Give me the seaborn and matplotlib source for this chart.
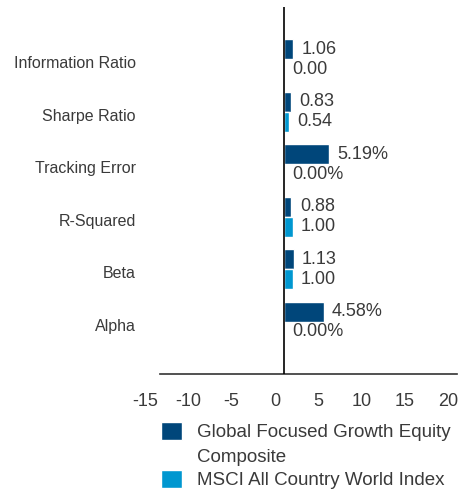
import pandas as pd
import matplotlib
matplotlib.use("Agg")
import matplotlib.pyplot as plt
from matplotlib.transforms import ScaledTranslation
import seaborn as sns

# Dados do gráfico
metricas = ["Information Ratio", "Sharpe Ratio", "Tracking Error", "R-Squared", "Beta", "Alpha"]
series = ["Global Focused Growth Equity", "MSCI All Country World Index"]
serie_linha2 = "Composite"
valores_fundo = [1.06, 0.83, 5.19, 0.88, 1.13, 4.58]
valores_indice = [0.00, 0.54, 0.00, 1.00, 1.00, 0.00]
rotulos_fundo = ["1.06", "0.83", "5.19%", "0.88", "1.13", "4.58%"]
rotulos_indice = ["0.00", "0.54", "0.00%", "1.00", "1.00", "0.00%"]
ticks_x = [-15, -10, -5, 0, 5, 10, 15, 20]

cores = ["#00467a", "#0097d0"]
cor_texto = "#3a3a3a"

df = pd.DataFrame({
    "metrica": metricas * 2,
    "serie": [series[0]] * 6 + [series[1]] * 6,
    "valor": valores_fundo + valores_indice,
})

sns.set_style("white")
plt.rcParams["font.family"] = ["Liberation Sans", "DejaVu Sans"]

fig = plt.figure(figsize=(4.68, 4.92), dpi=100)
ax = fig.add_axes([154 / 468, 1 - 374 / 492, 303 / 468, 367 / 492])

sns.barplot(data=df, y="metrica", x="valor", hue="serie", orient="h",
            palette=cores, width=0.76, gap=0, ax=ax, order=metricas,
            hue_order=series, saturation=1)

ax.set_xlim(-15, 20)
ax.set_ylim(5.99, -0.99)
ax.set_xticks(ticks_x)
ax.set_xticklabels([str(t) for t in ticks_x], fontsize=13, color=cor_texto)
ax.set_yticks(range(len(metricas)))
ax.set_yticklabels(metricas, fontsize=11.5, color=cor_texto)
ax.tick_params(axis="x", length=0, pad=14)
ax.tick_params(axis="y", length=0, pad=13)
ax.set_xlabel("")
ax.set_ylabel("")

# no original os rótulos do eixo x ficam um pouco à esquerda das posições
desloc = ScaledTranslation(-9 / 100, 0, fig.dpi_scale_trans)
for lbl in ax.get_xticklabels():
    lbl.set_transform(lbl.get_transform() + desloc)
# e os nomes das métricas um pouco abaixo do centro do grupo
desloc_y = ScaledTranslation(0, -3 / 100, fig.dpi_scale_trans)
for lbl in ax.get_yticklabels():
    lbl.set_transform(lbl.get_transform() + desloc_y)

for lado in ["top", "right", "left"]:
    ax.spines[lado].set_visible(False)
ax.spines["bottom"].set_color("#333333")
ax.spines["bottom"].set_linewidth(1.2)
ax.spines["bottom"].set_bounds(-14.3, 20)
ax.axvline(0, color="black", lw=1.2, zorder=3)

ax.bar_label(ax.containers[0], labels=rotulos_fundo, padding=6, fontsize=13, color=cor_texto)
ax.bar_label(ax.containers[1], labels=rotulos_indice, padding=6, fontsize=13, color=cor_texto)

handles, labels = ax.get_legend_handles_labels()
ax.get_legend().remove()
leg = fig.legend(handles, labels, loc="upper left", bbox_to_anchor=(161 / 468, 1 - 422 / 492),
                 frameon=False, fontsize=13.5, handlelength=1.1, handleheight=1.1,
                 handletextpad=0.8, labelspacing=1.5, labelcolor=cor_texto,
                 borderpad=0, borderaxespad=0)

# segunda linha do primeiro item da legenda, logo abaixo do texto
fig.canvas.draw()
caixa = leg.get_texts()[0].get_window_extent()
fig.text(caixa.x0 / 468, (caixa.y0 + caixa.y1) / 2 / 492 - 25 / 492, serie_linha2,
         fontsize=13.5, color=cor_texto, va="center", ha="left")

plt.savefig("out.png", dpi=100)
